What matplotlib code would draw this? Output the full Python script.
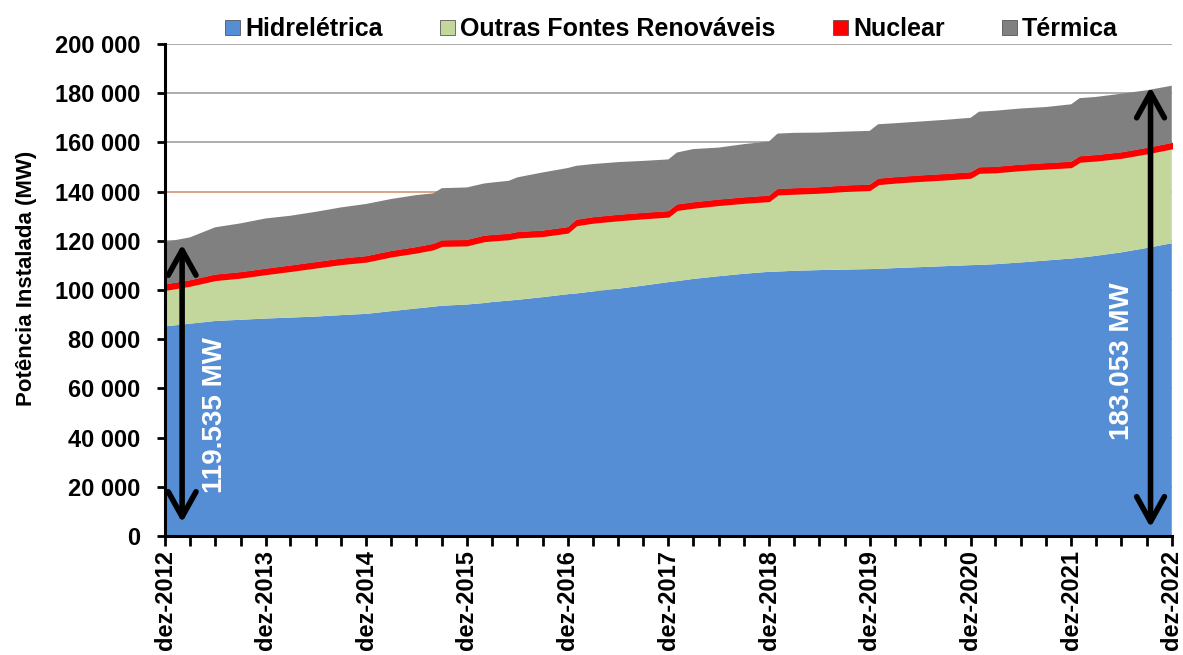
import numpy as np
import pandas as pd
import matplotlib
matplotlib.use('Agg')
import matplotlib.pyplot as plt
import matplotlib.dates as mdates
from matplotlib.patches import Patch

plt.rcParams['font.family'] = ['Liberation Sans', 'DejaVu Sans']

# Potência instalada por fonte (MW), leitura do gráfico
meses = ['2012-12', '2013-03', '2013-06', '2013-09', '2013-12', '2014-03', '2014-06', '2014-09',
         '2014-12', '2015-03', '2015-06', '2015-08', '2015-09', '2015-12', '2016-02', '2016-03',
         '2016-05', '2016-06', '2016-09', '2016-12', '2017-01', '2017-03', '2017-06', '2017-09',
         '2017-12', '2018-01', '2018-03', '2018-06', '2018-09', '2018-12', '2019-01', '2019-03',
         '2019-06', '2019-09', '2019-12', '2020-01', '2020-03', '2020-06', '2020-09', '2020-12',
         '2021-01', '2021-03', '2021-06', '2021-09', '2021-12', '2022-01', '2022-03', '2022-06',
         '2022-09', '2022-12']

hidreletrica = [85200, 86300, 87400, 87900, 88400, 88800, 89200, 89800, 90300, 91400,
                92500, 93200, 93600, 94100, 94700, 95100, 95700, 96000, 97100, 98300,
                98600, 99400, 100500, 101800, 103200, 103600, 104500, 105600, 106600, 107400,
                107500, 107800, 108100, 108300, 108500, 108600, 108900, 109300, 109700, 110100,
                110200, 110500, 111200, 112000, 112800, 113100, 113900, 115300, 117100, 119000]

outras = [15000, 15600, 16800, 17300, 18200, 19100, 20100, 20900, 21400, 22400,
          22900, 23500, 24500, 24200, 25300, 25200, 25100, 25500, 25000, 25200,
          27900, 28100, 28000, 27500, 26800, 29100, 29100, 29100, 29000, 28900,
          31500, 31500, 31600, 32100, 32300, 34600, 34900, 35200, 35400, 35700,
          37600, 37500, 37700, 37500, 37300, 39200, 38900, 38600, 38600, 38710]

nuclear = [1990, 1990, 1990, 1990, 1990, 1990, 1990, 1990, 1990, 1990,
           1990, 1990, 1990, 1990, 1990, 1990, 1990, 1990, 1990, 1990,
           1990, 1990, 1990, 1990, 1990, 1990, 1990, 1990, 1990, 1990,
           1990, 1990, 1990, 1990, 1990, 1990, 1990, 1990, 1990, 1990,
           1990, 1990, 1990, 1990, 1990, 1990, 1990, 1990, 1990, 1990]

termica = [17300, 17500, 19300, 19900, 20500, 20300, 20500, 20900, 21300, 21200,
           21200, 20600, 21300, 21400, 21300, 21400, 21600, 22300, 23700, 24100,
           22000, 21700, 21500, 21200, 21100, 21200, 21700, 21200, 21700, 22100,
           22600, 22600, 22300, 22000, 21900, 22200, 22000, 22000, 22100, 22200,
           22700, 22900, 22900, 22900, 23400, 23700, 23700, 23900, 23500, 23350]

nomes = ['Hidrelétrica', 'Outras Fontes Renováveis', 'Nuclear', 'Térmica']
cores = ['#558ED5', '#C3D69B', '#FF0000', '#808080']

anos = ['2012', '2013', '2014', '2015', '2016', '2017', '2018', '2019', '2020', '2021', '2022']

# anotações (total inicial e final)
total_ini = 119535
total_fim = 183053

datas = pd.to_datetime(meses, format='%Y-%m')

fig = plt.figure(figsize=(11.83, 6.55), dpi=100)
ax = fig.add_axes([0.1395, 0.1817, 0.851, 0.7511])

polys = ax.stackplot(datas, hidreletrica, outras, nuclear, termica,
                     colors=cores, linewidth=0, zorder=2)
polys[2].set_edgecolor('#FF0000')
polys[2].set_linewidth(1.3)

# grade
for v in range(20000, 200001, 20000):
    ax.axhline(v, color='#A6A6A6', lw=1.3, zorder=1)
ax.axhline(140000, color='#DFA78A', lw=1.3, zorder=1.5)

ax.set_ylim(0, 200000)
ax.set_xlim(pd.Timestamp('2012-12-01'), pd.Timestamp('2022-12-01'))

ax.set_yticks(range(0, 200001, 20000))
ax.set_yticklabels([f'{v:,}'.replace(',', ' ') for v in range(0, 200001, 20000)],
                   fontsize=17, fontweight='bold')

ax.set_xticks([pd.Timestamp(a + '-12-01') for a in anos])
ax.set_xticklabels(['dez-' + a for a in anos], rotation=90, fontsize=17, fontweight='bold')
ax.xaxis.set_minor_locator(mdates.MonthLocator(bymonth=[3, 6, 9, 12]))

ax.tick_params(axis='y', direction='out', length=6, width=2, pad=12)
ax.tick_params(axis='x', which='both', direction='out', length=7, width=2, pad=3)

for s in ['top', 'right']:
    ax.spines[s].set_visible(False)
for s in ['left', 'bottom']:
    ax.spines[s].set_linewidth(2.2)
    ax.spines[s].set_zorder(5)

ax.set_ylabel('Potência Instalada (MW)', fontsize=16, fontweight='bold')
ax.yaxis.set_label_coords(-0.127, 0.523)

# setas
seta = dict(arrowstyle='<->,head_length=0.9,head_width=0.5', lw=4, color='black',
            mutation_scale=20, shrinkA=0, shrinkB=0)
ax.annotate('', xy=(pd.Timestamp('2013-02-01'), 118500), xytext=(pd.Timestamp('2013-02-01'), 5500),
            arrowprops=seta, zorder=6)
ax.annotate('', xy=(pd.Timestamp('2022-09-15'), 182500), xytext=(pd.Timestamp('2022-09-15'), 3500),
            arrowprops=seta, zorder=6)

ax.text(pd.Timestamp('2013-06-01'), 49000, f'{total_ini:,}'.replace(',', '.') + ' MW',
        rotation=90, color='white', fontsize=20, fontweight='bold',
        ha='center', va='center', zorder=7)
ax.text(pd.Timestamp('2022-06-05'), 71000, f'{total_fim:,}'.replace(',', '.') + ' MW',
        rotation=90, color='white', fontsize=20, fontweight='bold',
        ha='center', va='center', zorder=7)

handles = [Patch(facecolor=c, edgecolor='#404040', linewidth=0.5) for c in cores]
fig.legend(handles, nomes, loc='upper center', bbox_to_anchor=(0.5676, 1.008), ncol=4,
           frameon=False, prop={'size': 18, 'weight': 'bold'},
           handlelength=0.6, handleheight=0.6, handletextpad=0.2, columnspacing=2.3)

fig.savefig('out.png', dpi=100)
